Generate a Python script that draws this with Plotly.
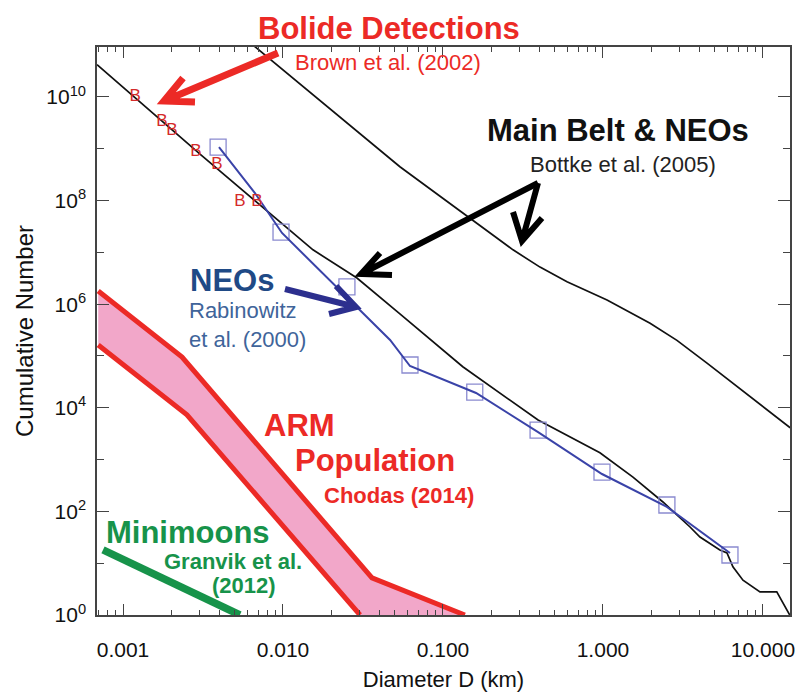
import plotly.graph_objects as go

# ---- data -------------------------------------------------------------
# Bolide detections (Brown et al. 2002), plotted as "B" symbols
bolide_d = [0.00119, 0.00175, 0.00202, 0.00286, 0.00387, 0.00538, 0.00688]
bolide_n = [1.0e10, 3.3e9, 2.2e9, 8.8e8, 5.0e8, 9.3e7, 9.3e7]

# NEO cumulative size distribution (Bottke et al. 2005)
neo_d = [0.000688, 0.00303, 0.0154, 0.0290, 0.0538, 0.133, 0.393, 0.957, 1.54,
         2.37, 3.50, 4.04, 5.38, 5.96, 6.49, 7.50, 9.58, 12.2, 14.7]
neo_n = [4.2e10, 7.9e8, 1.12e7, 3.2e6, 6.5e5, 6.2e4, 5.8e3, 1.35e3, 460,
         152, 50, 32, 18, 15.8, 8.5, 4.7, 2.8, 2.8, 1.0]

# Main belt cumulative size distribution (Bottke et al. 2005)
mb_d = [0.00579, 0.0538, 0.274, 0.404, 0.596, 1.06, 1.97, 2.90, 4.47, 6.49, 14.8]
mb_n = [1.35e11, 4.5e8, 1.12e7, 5.2e6, 2.7e6, 1.2e6, 4.3e5, 2.0e5, 7.3e4, 3.0e4, 4.1e3]

# NEOs (Rabinowitz et al. 2000): fitted curve and data points
rab_fit_d = [0.00398, 0.00668, 0.00986, 0.0303, 0.0467, 0.0622, 0.161, 0.393,
             0.986, 2.51, 6.22]
rab_fit_n = [1.08e9, 1.4e8, 2.37e7, 7.7e5, 2.04e5, 6.4e4, 1.93e4, 3.4e3,
             527, 122, 15.7]
rab_pts_d = [0.00393, 0.00972, 0.0251, 0.0622, 0.158, 0.393, 0.986, 2.51, 6.22]
rab_pts_n = [1.08e9, 2.47e7, 2.15e6, 6.7e4, 2.0e4, 3.7e3, 575, 133, 14.4]

# ARM population envelope (Chodas 2014)
arm_hi_d = [0.0007, 0.00234, 0.036, 0.137]
arm_hi_n = [1.8e6, 9.5e4, 5.2, 1.0]
arm_lo_d = [0.0007, 0.00251, 0.0303]
arm_lo_n = [1.63e5, 7.3e3, 1.0]

# Minimoons (Granvik et al. 2012)
mini_d = [0.00075, 0.00538]
mini_n = [18, 1.0]

# ---- axis ticks --------------------------------------------------------
x_tickvals = [0.001, 0.01, 0.1, 1, 10]
x_ticktext = ["0.001", "0.010", "0.100", "1.000", "10.000"]
x_minorvals = [m * 10.0 ** k for k in range(-4, 2) for m in range(2, 10)]
y_tickvals = [10.0 ** k for k in range(0, 11, 2)]
y_ticktext = ["10<sup>%d</sup>" % k for k in range(0, 11, 2)]
y_minorvals = [10.0 ** k for k in range(1, 12, 2)]

# ---- colours -----------------------------------------------------------
RED = "#ec2a26"
PINK = "#f2a7c9"
GREEN = "#17934a"
NAVY = "#2c2f8e"
CURVE_BLUE = "#3a43a8"
SQUARE_BLUE = "#8a8ad0"
NEO_TEXT = "#1f4a86"
RAB_TEXT = "#40649a"
FONT = "Liberation Sans, Arial, sans-serif"

# plot-area geometry in pixels (used for annotation / arrow placement)
W, H = 801, 693
L, R, T, B = 97, 790, 47, 615


def fx(p):
    return (p - L) / (R - L)


def fy(p):
    return (B - p) / (B - T)


fig = go.Figure()

# ARM shaded band
fig.add_trace(go.Scatter(
    x=arm_hi_d + arm_lo_d[::-1], y=arm_hi_n + arm_lo_n[::-1],
    mode="lines", fill="toself", fillcolor=PINK,
    line=dict(width=0), hoverinfo="skip", showlegend=False))
for xs, ys in ((arm_hi_d, arm_hi_n), (arm_lo_d, arm_lo_n)):
    fig.add_trace(go.Scatter(x=xs, y=ys, mode="lines",
                             line=dict(color=RED, width=5), showlegend=False))

# Minimoons
fig.add_trace(go.Scatter(x=mini_d, y=mini_n, mode="lines",
                         line=dict(color=GREEN, width=7.5), showlegend=False))

# Bottke curves
fig.add_trace(go.Scatter(x=mb_d, y=mb_n, mode="lines",
                         line=dict(color="#111111", width=1.7), showlegend=False))
fig.add_trace(go.Scatter(x=neo_d, y=neo_n, mode="lines",
                         line=dict(color="#111111", width=1.7), showlegend=False))

# Rabinowitz
fig.add_trace(go.Scatter(x=rab_pts_d, y=rab_pts_n, mode="markers",
                         marker=dict(symbol="square-open", size=16,
                                     color=SQUARE_BLUE, line=dict(width=1.3)),
                         showlegend=False))
fig.add_trace(go.Scatter(x=rab_fit_d, y=rab_fit_n, mode="lines",
                         line=dict(color=CURVE_BLUE, width=2), showlegend=False))

# Bolides
fig.add_trace(go.Scatter(x=bolide_d, y=bolide_n, mode="text", text=["B"] * len(bolide_d),
                         textfont=dict(family=FONT, size=17, color="#d42a2a"),
                         showlegend=False))

# ---- labels --------------------------------------------------------------
BIG, SMALL = 31, 22
labels = [
    ("<b>Bolide Detections</b>", 389, 28, BIG, RED, "center"),
    ("Brown et al. (2002)", 388, 62, SMALL, RED, "center"),
    ("<b>Main Belt &amp; NEOs</b>", 618, 130, BIG, "#111111", "center"),
    ("Bottke et al. (2005)", 623, 164, SMALL, "#222222", "center"),
    ("<b>NEOs</b>", 232, 280, BIG, NEO_TEXT, "center"),
    ("<b>ARM</b>", 299, 425, BIG, RED, "center"),
    ("<b>Population</b>", 375, 460, BIG, RED, "center"),
    ("<b>Chodas (2014)</b>", 399, 495, SMALL, RED, "center"),
    ("<b>Minimoons</b>", 188, 532, BIG, GREEN, "center"),
    ("<b>Granvik et al.</b>", 233, 561, SMALL, GREEN, "center"),
    ("<b>(2012)</b>", 244, 585, SMALL, GREEN, "center"),
]
for text, px, py, size, color, anchor in labels:
    fig.add_annotation(text=text, x=fx(px), y=fy(py), xref="paper", yref="paper",
                       xanchor=anchor, yanchor="middle", showarrow=False,
                       font=dict(family=FONT, size=size, color=color))
fig.add_annotation(text="Rabinowitz<br>et al. (2000)", x=fx(187), y=fy(325),
                   xref="paper", yref="paper", xanchor="left", yanchor="middle",
                   align="left", showarrow=False,
                   font=dict(family=FONT, size=SMALL, color=RAB_TEXT))


# ---- pointer arrows ------------------------------------------------------
def pts(*ps):
    return " L".join("%.5f,%.5f" % (fx(a), fy(b)) for a, b in ps)


arrows = [
    # (shaft start, tip, wing a, wing b, colour, width)
    ((278, 53), (164, 101), (183, 78), (195, 102), RED, 7),
    ((538, 183), (361, 274), (380, 253), (392, 275), "#000000", 6),
    ((538, 183), (522, 241), (513, 212), (542, 218), "#000000", 6),
    ((285, 289), (356, 307), (336, 286), (329, 314), NAVY, 6),
]
for tail, tip, wa, wb, color, width in arrows:
    path = "M" + pts(tail, tip) + " M" + pts(wa, tip, wb)
    fig.add_shape(type="path", path=path, xref="paper", yref="paper",
                  line=dict(color=color, width=width), layer="above")

axis_common = dict(type="log", showgrid=False, zeroline=False, showline=True,
                   linecolor="#444444", linewidth=1.5, mirror="allticks",
                   ticks="inside", tickcolor="#444444", tickwidth=1.3,
                   automargin=False,
                   tickfont=dict(family=FONT, size=21, color="#111111"))

fig.update_xaxes(**axis_common, range=[-3.1625, 1.169],
                 tickmode="array", tickvals=x_tickvals, ticktext=x_ticktext,
                 ticklen=11, ticklabelstandoff=15,
                 minor=dict(tickmode="array", tickvals=x_minorvals, ticks="inside",
                            ticklen=5, tickcolor="#444444", tickwidth=1.2),
                 title=dict(text="Diameter D (km)", standoff=12,
                            font=dict(family=FONT, size=22, color="#111111")))
fig.update_yaxes(**axis_common, range=[0, 10.965],
                 tickmode="array", tickvals=y_tickvals, ticktext=y_ticktext,
                 ticklen=12, ticklabelstandoff=5,
                 minor=dict(tickmode="array", tickvals=y_minorvals, ticks="inside",
                            ticklen=7, tickcolor="#444444", tickwidth=1.2),
                 title=dict(text="Cumulative Number", standoff=6,
                            font=dict(family=FONT, size=24, color="#111111")))

fig.update_layout(width=W, height=H, autosize=False,
                  margin=dict(l=L, r=W - R, t=T, b=H - B, pad=0, autoexpand=False),
                  paper_bgcolor="white", plot_bgcolor="white",
                  font=dict(family=FONT), showlegend=False)

fig.write_html("out.html")
